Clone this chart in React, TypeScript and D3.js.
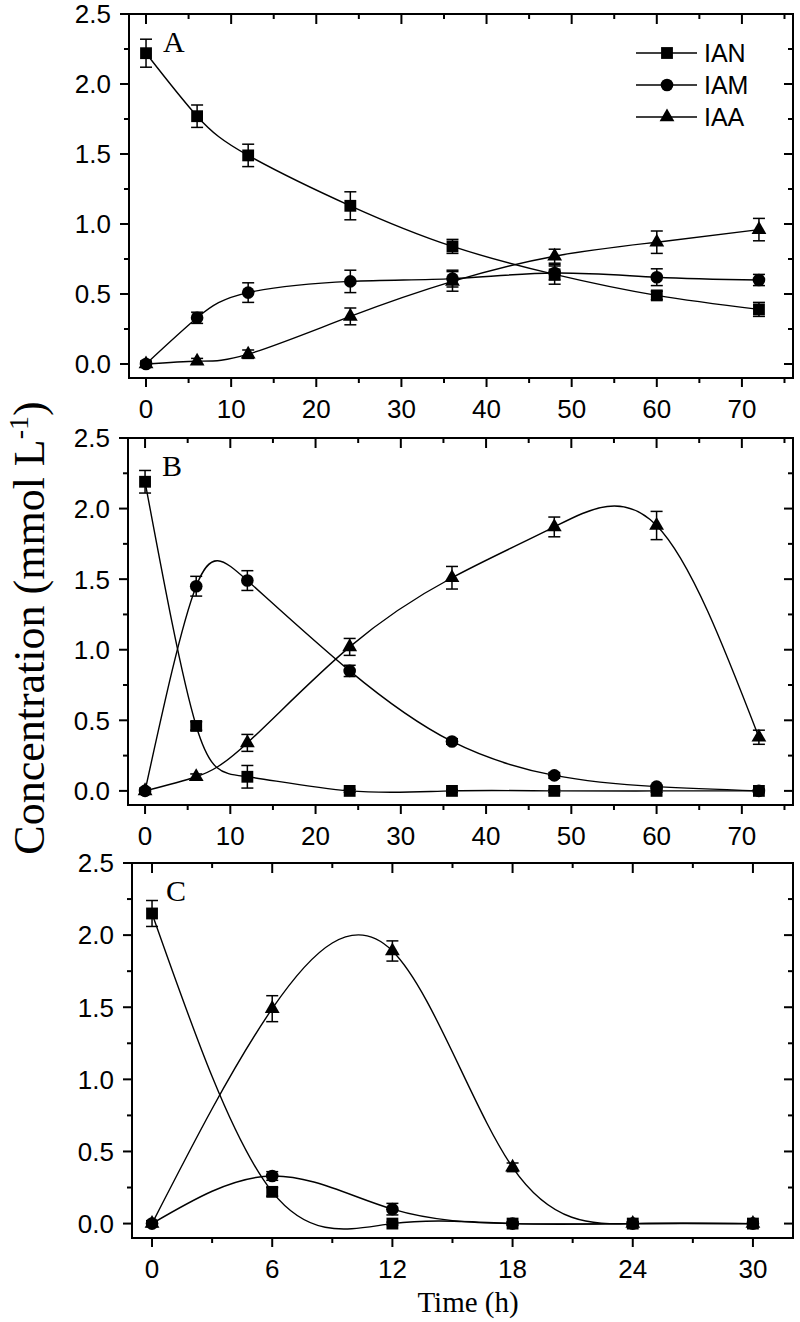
import * as d3 from "d3";

// sampling times (h)
const timeAB = [0, 6, 12, 24, 36, 48, 60, 72];
const timeC = [0, 6, 12, 18, 24, 30];

// panel A
const ianA = [2.22, 1.77, 1.49, 1.13, 0.84, 0.64, 0.49, 0.39];
const ianAErr = [0.1, 0.08, 0.08, 0.1, 0.05, 0.07, 0.03, 0.05];
const iamA = [0.0, 0.33, 0.51, 0.59, 0.61, 0.65, 0.62, 0.6];
const iamAErr = [0.02, 0.04, 0.07, 0.08, 0.06, 0.05, 0.06, 0.04];
const iaaA = [0.0, 0.02, 0.07, 0.34, 0.59, 0.77, 0.87, 0.96];
const iaaAErr = [0.02, 0.02, 0.03, 0.06, 0.07, 0.05, 0.08, 0.08];

// panel B
const ianB = [2.19, 0.46, 0.1, 0.0, 0.0, 0.0, 0.0, 0.0];
const ianBErr = [0.08, 0.03, 0.08, 0.01, 0.01, 0.01, 0.01, 0.01];
const iamB = [0.0, 1.45, 1.49, 0.85, 0.35, 0.11, 0.03, 0.0];
const iamBErr = [0.02, 0.07, 0.07, 0.04, 0.02, 0.02, 0.01, 0.01];
const iaaB = [0.0, 0.1, 0.34, 1.02, 1.51, 1.87, 1.88, 0.38];
const iaaBErr = [0.01, 0.02, 0.06, 0.06, 0.08, 0.07, 0.1, 0.05];

// panel C
const ianC = [2.15, 0.22, 0.0, 0.0, 0.0, 0.0];
const ianCErr = [0.09, 0.03, 0.01, 0.01, 0.01, 0.01];
const iamC = [0.0, 0.33, 0.1, 0.0, 0.0, 0.0];
const iamCErr = [0.02, 0.03, 0.04, 0.01, 0.01, 0.01];
const iaaC = [0.0, 1.49, 1.89, 0.39, 0.0, 0.0];
const iaaCErr = [0.02, 0.09, 0.07, 0.03, 0.01, 0.01];

const seriesNames = ["IAN", "IAM", "IAA"];
const markers = ["square", "circle", "triangle"];
const yTicks = d3.range(0, 2.501, 0.25);

const serif = "'Liberation Serif', 'Times New Roman', serif";
const sans = "'Liberation Sans', Arial, sans-serif";

const symbolFor: Record<string, d3.SymbolType> = {
  square: d3.symbolSquare,
  circle: d3.symbolCircle,
  triangle: d3.symbolTriangle,
};
const symbolSize: Record<string, number> = { square: 140, circle: 125, triangle: 95 };

const panels = [
  {
    label: "A",
    time: timeAB,
    series: [
      [ianA, ianAErr],
      [iamA, iamAErr],
      [iaaA, iaaAErr],
    ],
    xDomain: [-2, 76],
    xMajor: d3.range(0, 71, 10),
    xMinor: d3.range(5, 76, 10),
    left: 129, right: 793, top: 14, bottom: 378,
    legend: true,
  },
  {
    label: "B",
    time: timeAB,
    series: [
      [ianB, ianBErr],
      [iamB, iamBErr],
      [iaaB, iaaBErr],
    ],
    xDomain: [-2, 76],
    xMajor: d3.range(0, 71, 10),
    xMinor: d3.range(5, 76, 10),
    left: 128, right: 793, top: 438, bottom: 805,
    legend: false,
  },
  {
    label: "C",
    time: timeC,
    series: [
      [ianC, ianCErr],
      [iamC, iamCErr],
      [iaaC, iaaCErr],
    ],
    xDomain: [-1, 32],
    xMajor: d3.range(0, 31, 6),
    xMinor: d3.range(3, 31, 6),
    left: 132, right: 793, top: 863, bottom: 1238,
    legend: false,
  },
];

function Panel({ p, idx }: { p: any; idx: number }) {
  const x = d3.scaleLinear().domain(p.xDomain).range([p.left, p.right]);
  const y = d3.scaleLinear().domain([-0.1, 2.5]).range([p.bottom, p.top]);
  const fmt = d3.format(".1f");
  const line = d3
    .line<number>()
    .x((_, i) => x(p.time[i]))
    .y((d) => y(d))
    .curve(d3.curveNatural);
  const clipId = `clip-${idx}`;

  return (
    <g>
      <defs>
        <clipPath id={clipId}>
          <rect x={p.left} y={p.top} width={p.right - p.left} height={p.bottom - p.top} />
        </clipPath>
      </defs>

      {/* curves */}
      <g clipPath={`url(#${clipId})`}>
        {p.series.map(([vals]: number[][], si: number) => (
          <path key={si} d={line(vals) || ""} fill="none" stroke="#000" strokeWidth={1.4} />
        ))}
      </g>

      {/* error bars */}
      {p.series.map(([vals, errs]: number[][], si: number) =>
        vals.map((v, i) => {
          const cx = x(p.time[i]);
          const y1 = y(v + errs[i]);
          const y2 = y(v - errs[i]);
          return (
            <g key={`e${si}-${i}`} stroke="#000" strokeWidth={1.5}>
              <line x1={cx} x2={cx} y1={y1} y2={y2} />
              <line x1={cx - 6} x2={cx + 6} y1={y1} y2={y1} />
              <line x1={cx - 6} x2={cx + 6} y1={y2} y2={y2} />
            </g>
          );
        })
      )}

      {/* markers */}
      {p.series.map(([vals]: number[][], si: number) =>
        vals.map((v, i) => (
          <path
            key={`m${si}-${i}`}
            d={d3.symbol(symbolFor[markers[si]], symbolSize[markers[si]])() || ""}
            transform={`translate(${x(p.time[i])},${y(v)})`}
            fill="#000"
          />
        ))
      )}

      {/* frame */}
      <rect
        x={p.left}
        y={p.top}
        width={p.right - p.left}
        height={p.bottom - p.top}
        fill="none"
        stroke="#000"
        strokeWidth={2}
      />

      {/* y ticks: outward on left, inward on right */}
      {yTicks.map((t, i) => {
        const len = i % 2 === 0 ? 9 : 5;
        return (
          <g key={`yt${i}`} stroke="#000" strokeWidth={2}>
            <line x1={p.left - len} x2={p.left} y1={y(t)} y2={y(t)} />
            <line x1={p.right - len} x2={p.right} y1={y(t)} y2={y(t)} />
          </g>
        );
      })}
      {yTicks
        .filter((_, i) => i % 2 === 0)
        .map((t) => (
          <text
            key={`yl${t}`}
            x={p.left - 18}
            y={y(t)}
            dy="0.36em"
            textAnchor="end"
            fontFamily={sans}
            fontSize={26}
          >
            {fmt(t)}
          </text>
        ))}

      {/* x ticks: outward at bottom, inward at top */}
      {p.xMajor.map((t: number) => (
        <g key={`xt${t}`} stroke="#000" strokeWidth={2}>
          <line x1={x(t)} x2={x(t)} y1={p.bottom} y2={p.bottom + 9} />
          <line x1={x(t)} x2={x(t)} y1={p.top} y2={p.top + 10} />
        </g>
      ))}
      {p.xMinor.map((t: number) => (
        <g key={`xm${t}`} stroke="#000" strokeWidth={2}>
          <line x1={x(t)} x2={x(t)} y1={p.bottom} y2={p.bottom + 5} />
          <line x1={x(t)} x2={x(t)} y1={p.top} y2={p.top + 5} />
        </g>
      ))}
      {p.xMajor.map((t: number) => (
        <text
          key={`xl${t}`}
          x={x(t)}
          y={p.bottom + 40}
          textAnchor="middle"
          fontFamily={sans}
          fontSize={26}
        >
          {t}
        </text>
      ))}

      {/* panel letter */}
      <text x={p.left + 34} y={p.top + 38} fontFamily={serif} fontSize={30}>
        {p.label}
      </text>

      {/* legend */}
      {p.legend &&
        seriesNames.map((name, si) => {
          const ly = p.top + 39 + si * 32;
          return (
            <g key={name}>
              <line x1={636} x2={697} y1={ly} y2={ly} stroke="#000" strokeWidth={1.4} />
              <path
                d={d3.symbol(symbolFor[markers[si]], symbolSize[markers[si]])() || ""}
                transform={`translate(667,${ly})`}
                fill="#000"
              />
              <text x={704} y={ly} dy="0.36em" fontFamily={sans} fontSize={25}>
                {name}
              </text>
            </g>
          );
        })}
    </g>
  );
}

export default function App() {
  return (
    <svg
      width={800}
      height={1322}
      style={{ position: "absolute", left: 0, top: 0, background: "#fff" }}
    >
      <rect width={800} height={1322} fill="#fff" />
      {panels.map((p, i) => (
        <Panel key={p.label} p={p} idx={i} />
      ))}
      <text
        transform="translate(44,628) rotate(-90)"
        textAnchor="middle"
        fontFamily={serif}
        fontSize={44}
      >
        Concentration (mmol L
        <tspan dy={-16} fontSize={28}>-1</tspan>
        <tspan dy={16}>)</tspan>
      </text>
      <text x={468} y={1312} textAnchor="middle" fontFamily={serif} fontSize={29}>
        Time (h)
      </text>
    </svg>
  );
}
